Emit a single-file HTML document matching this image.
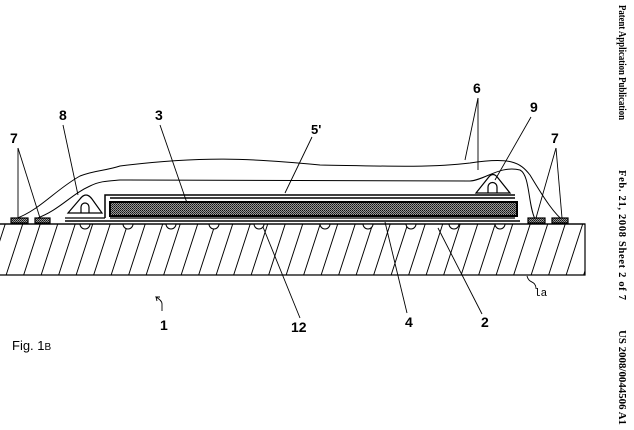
<!DOCTYPE html>
<html><head><style>body{margin:0;background:#fff}svg{display:block}</style></head><body>
<svg width="634" height="430" xmlns="http://www.w3.org/2000/svg" font-family="Liberation Sans, sans-serif">
<defs>
<pattern id="h" patternUnits="userSpaceOnUse" width="17.5" height="52" patternTransform="skewX(-18)">
<line x1="8" y1="0" x2="8" y2="52" stroke="#000" stroke-width="1"/></pattern>
<pattern id="m" patternUnits="userSpaceOnUse" width="2" height="2"><rect width="2" height="2" fill="#999"/><rect width="1" height="1" fill="#111"/><rect x="1" y="1" width="1" height="1" fill="#333"/></pattern>
<clipPath id="c"><rect x="0" y="224" width="585" height="51"/></clipPath>
</defs>
<rect x="0" y="224" width="585" height="51" fill="url(#h)" clip-path="url(#c)"/>
<path d="M0 224 H585 V275 H0" fill="none" stroke="#000" stroke-width="1.2"/>
<g fill="#fff" stroke="#000" stroke-width="1">
<path d="M80 224 a5 5 0 0 0 10 0"/><path d="M123 224 a5 5 0 0 0 10 0"/><path d="M166 224 a5 5 0 0 0 10 0"/><path d="M209 224 a5 5 0 0 0 10 0"/><path d="M254 224 a5 5 0 0 0 10 0"/><path d="M320 224 a5 5 0 0 0 10 0"/><path d="M363 224 a5 5 0 0 0 10 0"/><path d="M406 224 a5 5 0 0 0 10 0"/><path d="M449 224 a5 5 0 0 0 10 0"/><path d="M495 224 a5 5 0 0 0 10 0"/>
</g>
<line x1="0" y1="224" x2="585" y2="224" stroke="#000" stroke-width="1.2"/>
<line x1="65" y1="221" x2="520" y2="221" stroke="#000" stroke-width="1.5"/>
<line x1="65" y1="218" x2="105" y2="218" stroke="#000" stroke-width="1.2"/>
<path d="M105 218 V195 H515" fill="none" stroke="#000" stroke-width="1.5"/>
<line x1="110" y1="198" x2="515" y2="198" stroke="#000" stroke-width="1.5"/>
<rect x="110" y="202" width="407" height="14" fill="url(#m)" stroke="#000" stroke-width="2"/>
<line x1="110" y1="218" x2="515" y2="218" stroke="#000" stroke-width="1.2"/>
<path d="M68 213 L80 199 Q86 191 92 199 L102 213 Z M81 213 V207 a4 4 0 0 1 8 0 V213" fill="#fff" stroke="#000" stroke-width="1.2"/>
<path d="M476 193 L488 178 Q493 171 498 178 L510 193 Z M488 193 V187 a4 4 0 0 1 9 0 V193" fill="#fff" stroke="#000" stroke-width="1.2"/>
<path d="M15 219 C40 210 55 190 80 176 C95 170 105 171 120 166 C200 156 250 158 320 165 C380 166 430 168 470 163 C510 157 520 162 530 175 C545 200 555 215 565 222" fill="none" stroke="#000" stroke-width="1"/>
<path d="M35 219 C60 210 70 195 90 186 C100 181 108 181 120 180 L470 181 C485 180 500 165 520 170 C530 175 528 205 535 219" fill="none" stroke="#000" stroke-width="1"/>
<g fill="url(#m)" stroke="#000" stroke-width="1.2">
<rect x="11" y="218" width="17" height="5"/><rect x="35" y="218" width="15" height="5"/>
<rect x="528" y="218" width="17" height="5"/><rect x="552" y="218" width="16" height="5"/>
</g>
<g stroke="#000" stroke-width="0.9" fill="none">
<line x1="18" y1="148" x2="18" y2="218"/><line x1="18" y1="148" x2="40" y2="218"/>
<line x1="63" y1="125" x2="78" y2="195"/>
<line x1="160" y1="125" x2="187" y2="203"/>
<line x1="312" y1="137" x2="285" y2="193"/>
<line x1="478" y1="98" x2="465" y2="160"/><line x1="478" y1="98" x2="478" y2="170"/>
<line x1="531" y1="117" x2="495" y2="180"/>
<line x1="556" y1="148" x2="536" y2="218"/><line x1="556" y1="148" x2="562" y2="218"/>
<line x1="385" y1="222" x2="407" y2="313"/>
<line x1="438" y1="228" x2="482" y2="314"/>
<line x1="263" y1="227" x2="300" y2="318"/>
<path d="M527 276 c2 8 8 4 9 12"/>
<path d="M162 311 v-7 c0 -3 -3 -5 -6 -7 l1 4 m-1 -4 l4 0"/>
</g>
<g font-size="14" font-weight="bold" fill="#000">
<text x="10" y="143">7</text><text x="59" y="120">8</text><text x="155" y="120">3</text>
<text x="311" y="134" font-size="13">5'</text><text x="473" y="93">6</text><text x="530" y="112">9</text>
<text x="551" y="143">7</text><text x="160" y="330">1</text><text x="291" y="332">12</text>
<text x="405" y="327">4</text><text x="481" y="327">2</text>
</g>
<text x="534" y="296" font-family="Liberation Mono, monospace" font-size="11">la</text>
<text x="12" y="350" font-size="13">Fig. 1<tspan font-size="10">B</tspan></text>
<g transform="translate(619,5) rotate(90)" font-family="Liberation Serif, serif" font-size="10.5" font-weight="bold">
<text x="0" y="0" textLength="115" lengthAdjust="spacingAndGlyphs">Patent Application Publication</text>
<text x="165" y="0" textLength="130" lengthAdjust="spacing">Feb. 21, 2008  Sheet 2 of 7</text>
<text x="325" y="0" textLength="95" lengthAdjust="spacingAndGlyphs">US 2008/0044506 A1</text>
</g>
</svg>
</body></html>
